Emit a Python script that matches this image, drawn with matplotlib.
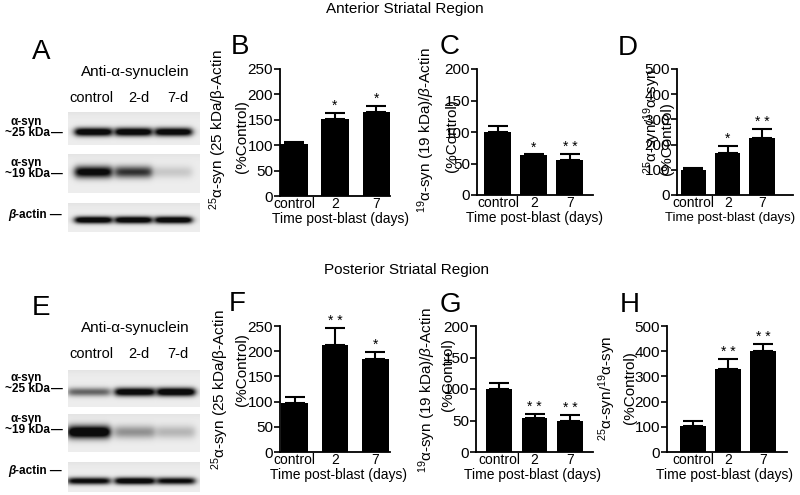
import numpy as np
import matplotlib
matplotlib.use("Agg")
import matplotlib.pyplot as plt

plt.rcParams['font.family'] = ['Liberation Sans', 'DejaVu Sans']
plt.rcParams['mathtext.fontset'] = 'custom'
plt.rcParams['mathtext.rm'] = 'Liberation Sans'
plt.rcParams['mathtext.it'] = 'Liberation Sans:italic'
plt.rcParams['mathtext.bf'] = 'Liberation Sans:bold'

# ---------------- data ----------------
groups = ['control', '2', '7']
lanes = ['control', '2-d', '7-d']

# Anterior striatal region
b_mean = [102, 152, 166]; b_err = [4, 11, 11]; b_sig = ['', '*', '*']
c_mean = [100, 63, 56];   c_err = [10, 1.5, 9]; c_sig = ['', '*', '* *']
d_mean = [100, 167, 228]; d_err = [8, 28, 32];  d_sig = ['', '*', '* *']
# Posterior striatal region
f_mean = [98, 213, 184];  f_err = [11, 34, 15]; f_sig = ['', '* *', '*']
g_mean = [100, 54, 49];   g_err = [10, 7, 9];   g_sig = ['', '* *', '* *']
h_mean = [105, 330, 400]; h_err = [20, 40, 30]; h_sig = ['', '* *', '* *']

# western blot band densities (0 = none, 1 = saturated) per lane
a_25kda = [0.95, 0.95, 0.92]
a_19kda = [0.85, 0.62, 0.12]
a_actin = [0.95, 0.95, 0.95]
e_25kda = [0.45, 0.92, 0.98]
e_19kda = [1.00, 0.30, 0.18]
e_actin = [0.82, 0.92, 0.80]

W, H = 800, 495
fig = plt.figure(figsize=(8, 4.95), dpi=100)
ov = fig.add_axes([0, 0, 1, 1])
ov.set_xlim(0, W); ov.set_ylim(H, 0); ov.axis('off')
ov.set_autoscale_on(False)


def px_axes(l, t, r, b):
    return fig.add_axes([l / W, 1 - b / H, (r - l) / W, (b - t) / H])


def strip(x0, x1, y0, y1, lane_x, center, sigma, dens):
    up = 3
    xs = np.linspace(x0, x1, int(x1 - x0) * up)
    ys = np.linspace(y0, y1, int(y1 - y0) * up)
    X, Y = np.meshgrid(xs, ys)
    img = np.full(X.shape, 0.93) - 0.04 * np.exp(-(Y - y0) / 4.0)
    for (a, b), d in zip(lane_x, dens):
        px = 1 / (1 + np.exp(-(X - a) / 2.0)) / (1 + np.exp((X - b) / 2.0))
        py = np.exp(-((Y - center) / sigma) ** 2)
        img = img * (1 - np.clip(1.3 * d * px * py, 0, 0.95))
    ov.imshow(img, cmap='gray', vmin=0, vmax=1, extent=(x0, x1, y1, y0),
              aspect='auto', interpolation='bilinear', zorder=0)


def blot_panel(dy, lane_x, dens25, dens19, densact, geo):
    for (y0, y1, c, sg), dens in zip(geo, [dens25, dens19, densact]):
        strip(68, 200, y0 + dy, y1 + dy, lane_x, c + dy, sg, dens)
    ov.text(135, 72 + dy, 'Anti-α-synuclein', ha='center', va='center', fontsize=11)
    for cx, lab in zip([91, 139, 178], lanes):
        ov.text(cx, 98 + dy, lab, ha='center', va='center', fontsize=10.5)
    kw = dict(fontsize=8.5, fontweight='bold', va='center')
    ov.text(26, 122 + dy, 'α-syn', ha='center', **kw)
    ov.text(50, 133 + dy, '~25 kDa', ha='right', **kw)
    ov.text(51, 133 + dy, '—', ha='left', **kw)
    ov.text(26, 163 + dy, 'α-syn', ha='center', **kw)
    ov.text(50, 174 + dy, '~19 kDa', ha='right', **kw)
    ov.text(51, 174 + dy, '—', ha='left', **kw)
    ov.text(15, 215 + dy, 'β', ha='right', fontstyle='italic', **kw)
    ov.text(15, 215 + dy, '-actin —', ha='left', **kw)


blot_panel(0, [(75, 112), (115, 152), (155, 192)], a_25kda, a_19kda, a_actin,
           [(112, 145, 132, 4.3), (154, 193, 172, 6.0), (203, 232, 220, 3.6)])
blot_panel(256, [(68, 110), (115, 155), (157, 195)], e_25kda, e_19kda, e_actin,
           [(114, 151, 136, 4.3), (158, 196, 176, 6.5), (206, 236, 225, 3.6)])

ov.text(405, 9, 'Anterior Striatal Region', ha='center', va='center', fontsize=11)
ov.text(406, 270, 'Posterior Striatal Region', ha='center', va='center', fontsize=11)

for lab, (x, y) in zip('ABCDEFGH', [(41, 52), (240, 47), (450, 47), (628, 48),
                                    (41, 308), (237, 304), (450, 305), (630, 305)]):
    ov.text(x, y, lab, ha='center', va='center', fontsize=20)


def bar_panel(rect, means, errs, sigs, ymax, ystep, xlim, width, lab1, lab2,
              xl_x, xl_size=10):
    ax = px_axes(*rect)
    x = np.arange(len(groups))
    ax.bar(x, means, width=width, color='black', zorder=2)
    ax.errorbar(x, means, yerr=[np.zeros(len(errs)), errs], fmt='none',
                ecolor='black', elinewidth=1.5, capsize=7, capthick=1.5, zorder=1)
    for xi, m, e, s in zip(x, means, errs, sigs):
        ax.text(xi, m + e, s, ha='center', va='bottom', fontsize=10)
    ax.set_xlim(xlim); ax.set_ylim(0, ymax)
    ax.set_yticks(np.arange(0, ymax + 1, ystep))
    ax.set_xticks(x); ax.set_xticklabels(groups)
    ax.tick_params(axis='x', length=0, pad=1, labelsize=10)
    ax.tick_params(axis='y', length=4, width=1.2, pad=1, labelsize=11)
    for s in ['top', 'right']:
        ax.spines[s].set_visible(False)
    for s in ['left', 'bottom']:
        ax.spines[s].set_linewidth(1.3)
    ax.patch.set_alpha(0)
    ov.text(xl_x, rect[3] + 23, 'Time post-blast (days)', ha='center', va='center',
            fontsize=xl_size)
    (t1, x1, y1), (t2, x2, y2) = lab1, lab2
    ov.text(x1, y1, t1, rotation=90, ha='center', va='center', fontsize=11)
    ov.text(x2, y2, t2, rotation=90, ha='center', va='center', fontsize=11)
    return ax


bar_panel((280, 69, 390, 196), b_mean, b_err, b_sig, 250, 50, (-0.34, 2.34), 0.66,
          ('$^{25}$α-syn (25 kDa/β-Actin', 218, 130), ('(%Control)', 242, 137), 340)
bar_panel((477, 69, 593, 195), c_mean, c_err, c_sig, 200, 50, (-0.58, 2.64), 0.75,
          ('$^{19}$α-syn (19 kDa)/$\\mathit{β}$-Actin', 426, 130), ('(%Control)', 452, 136),
          535)
bar_panel((677, 69, 793, 195), d_mean, d_err, d_sig, 500, 100, (-0.48, 2.9), 0.74,
          ('$^{25}$α-syn/$^{19}$α-syn', 652, 121), ('(%Control)', 667, 139), 730, 9.5)
bar_panel((280, 326, 390, 452), f_mean, f_err, f_sig, 250, 50, (-0.36, 2.36), 0.65,
          ('$^{25}$α-syn (25 kDa/β-Actin', 220, 390), ('(%Control)', 242, 370), 338)
bar_panel((476, 326, 593, 452), g_mean, g_err, g_sig, 200, 50, (-0.65, 2.65), 0.73,
          ('$^{19}$α-syn (19 kDa)/$\\mathit{β}$-Actin', 427, 390), ('(%Control)', 448, 375),
          533)
bar_panel((667, 326, 787, 452), h_mean, h_err, h_sig, 500, 100, (-0.74, 2.67), 0.74,
          ('$^{25}$α-syn/$^{19}$α-syn', 607, 388), ('(%Control)', 630, 388), 725)

fig.savefig('out.png', dpi=100)
